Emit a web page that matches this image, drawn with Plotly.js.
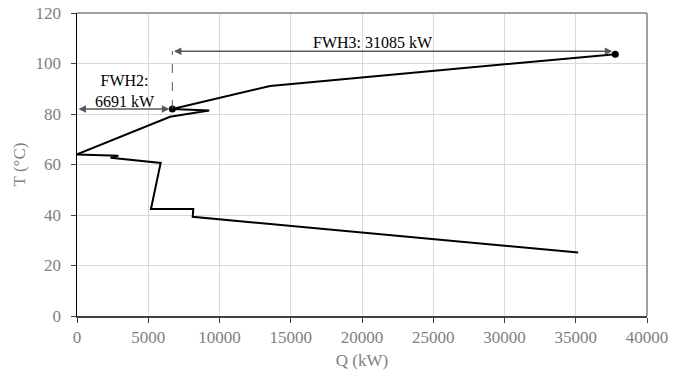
<!DOCTYPE html>
<html>
<head>
<meta charset="utf-8">
<script src="https://cdn.plot.ly/plotly-3.0.1.min.js"></script>
<style>html,body{margin:0;padding:0;background:#fff;}#chart{width:673px;height:380px;}</style>
</head>
<body>
<div id="chart"></div>
<script>
// Lower (cold-side) curve
const qLower = [35170, 8120, 8160, 5190, 5870, 2360, 2900, 0];
const tLower = [25.1, 39.3, 42.4, 42.4, 60.6, 62.7, 63.5, 64.0];
// Upper curve
const qUpper = [0, 6530, 9280, 6691, 13550, 37776];
const tUpper = [64.0, 78.9, 81.4, 82.0, 91.1, 103.7];
// Marked points
const qDots = [6691, 37776];
const tDots = [82.0, 103.7];
// Duties
const fwh2Duty = 6691;
const fwh3Duty = 31085;
const fwh2ArrowT = 82.0;
const fwh3ArrowT = 104.9;
const fwh2Label = "FWH2:<br>6691 kW";
const fwh3Label = "FWH3: 31085 kW";
const xTicks = [0, 5000, 10000, 15000, 20000, 25000, 30000, 35000, 40000];
const yTicks = [0, 20, 40, 60, 80, 100, 120];

const serif = "'Liberation Serif', 'Times New Roman', Times, serif";
const grey = "#595959";

const traces = [
  {x: qLower, y: tLower, mode: "lines", line: {color: "#000", width: 2}, hoverinfo: "skip"},
  {x: qUpper, y: tUpper, mode: "lines", line: {color: "#000", width: 2}, hoverinfo: "skip"},
  {x: qDots, y: tDots, mode: "markers", marker: {color: "#000", size: 7}, hoverinfo: "skip"}
];

const fwh3End = fwh2Duty + fwh3Duty;

const layout = {
  width: 673, height: 380,
  margin: {l: 77, r: 26, t: 13, b: 64},
  paper_bgcolor: "#fff", plot_bgcolor: "#fff",
  showlegend: false,
  font: {family: serif, color: "#000"},
  xaxis: {
    range: [0, 40000], tickvals: xTicks, ticktext: xTicks.map(String),
    showgrid: true, gridcolor: "#d9d9d9", gridwidth: 1,
    zeroline: false, showline: true, linecolor: "#404040", linewidth: 1.5,
    ticks: "outside", ticklen: 5, tickcolor: "#404040",
    tickfont: {family: serif, size: 17, color: "#808080"},
    title: {text: "Q (kW)", font: {family: serif, size: 17, color: "#808080"}, standoff: 8}
  },
  yaxis: {
    range: [0, 120], tickvals: yTicks,
    showgrid: true, gridcolor: "#d9d9d9", gridwidth: 1,
    zeroline: false, showline: true, linecolor: "#000", linewidth: 1.5,
    ticks: "outside", ticklen: 5, tickcolor: "#404040",
    ticklabelstandoff: 6,
    tickfont: {family: serif, size: 17, color: "#808080"},
    title: {text: "T (°C)", font: {family: serif, size: 17, color: "#808080"}, standoff: 5}
  },
  shapes: [
    {type: "line", xref: "paper", yref: "paper", x0: 0, x1: 1, y0: 1, y1: 1, line: {color: "#808080", width: 1.5}},
    {type: "line", xref: "paper", yref: "paper", x0: 1, x1: 1, y0: 0, y1: 1, line: {color: "#808080", width: 1.5}},
    {type: "line", xref: "x", yref: "y", x0: fwh2Duty, x1: fwh2Duty, y0: fwh2ArrowT, y1: fwh3ArrowT, line: {color: grey, width: 1, dash: "dash"}}
  ],
  annotations: [
    {x: fwh2Duty, y: fwh2ArrowT, ax: 0, ay: fwh2ArrowT, xref: "x", yref: "y", axref: "x", ayref: "y",
     text: "", showarrow: true, arrowhead: 2, startarrowhead: 2, arrowside: "end+start",
     arrowcolor: grey, arrowwidth: 1.5, arrowsize: 1, startarrowsize: 1, standoff: 3, startstandoff: 0},
    {x: fwh3End, y: fwh3ArrowT, ax: fwh2Duty, ay: fwh3ArrowT, xref: "x", yref: "y", axref: "x", ayref: "y",
     text: "", showarrow: true, arrowhead: 2, startarrowhead: 2, arrowside: "end+start",
     arrowcolor: grey, arrowwidth: 1.5, arrowsize: 1, startarrowsize: 1, standoff: 3, startstandoff: 0},
    {x: 3350, y: 89.2, xref: "x", yref: "y", text: fwh2Label, showarrow: false,
     font: {family: serif, size: 16, color: "#000"}, align: "center"},
    {x: 20772, y: 108.2, xref: "x", yref: "y", text: fwh3Label, showarrow: false,
     font: {family: serif, size: 16, color: "#000"}}
  ]
};

Plotly.newPlot("chart", traces, layout, {displayModeBar: false, staticPlot: true});
</script>
</body>
</html>
